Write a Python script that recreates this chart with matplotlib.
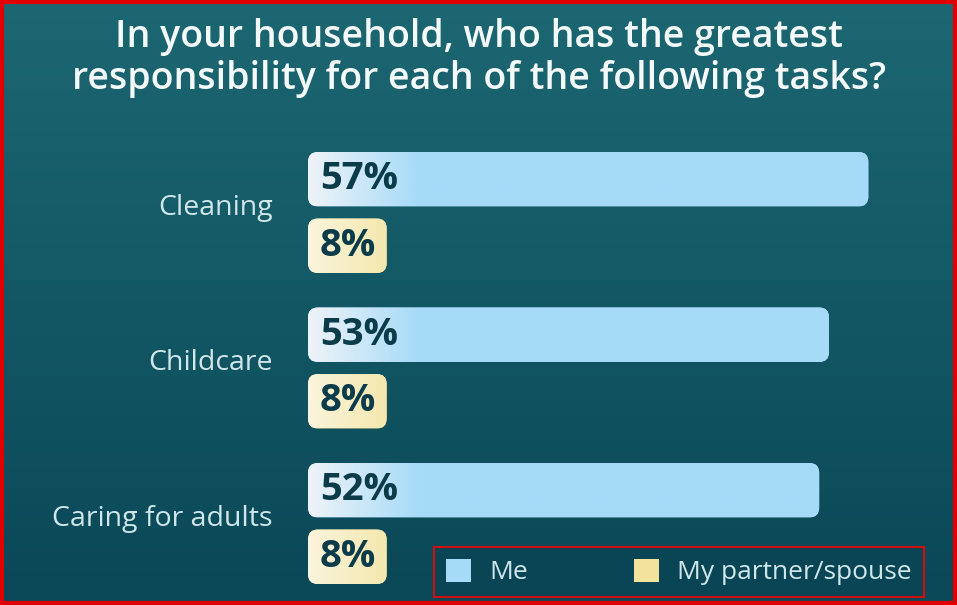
import numpy as np
import matplotlib.pyplot as plt
from matplotlib.colors import to_rgb
from matplotlib.patches import FancyBboxPatch, Patch, Rectangle

plt.rcParams['font.family'] = ['Open Sans', 'DejaVu Sans']

title = 'In your household, who has the greatest\nresponsibility for each of the following tasks?'
tasks = ['Cleaning', 'Childcare', 'Caring for adults']
me = [57, 53, 52]
partner = [8, 8, 8]
series_names = ['Me', 'My partner/spouse']

me_cols = ('#eef3f8', '#a6dbf8')
partner_cols = ('#faf5dc', '#f2e29c')
label_col = '#cfe7ea'
value_col = '#0c3b4a'

W, H = 957, 605
fig = plt.figure(figsize=(W / 100, H / 100), dpi=100)

# background gradient
bg = fig.add_axes([0, 0, 1, 1], zorder=0)
bg.axis('off')
top = np.array([0x1c, 0x67, 0x72]) / 255
bot = np.array([0x0a, 0x47, 0x57]) / 255
t = np.linspace(0, 1, 256)[:, None]
grad = top * (1 - t) + bot * t
bg.imshow(grad[:, None, :].repeat(2, axis=1), aspect='auto', extent=(0, 1, 0, 1))
bg.set_xlim(0, 1)
bg.set_ylim(0, 1)

# bars axes
x_px = 9.83
ax_left, ax_w = 308, 60 * x_px
ax_bot, ax_h = 605 - 601.25, 466.5
ax = fig.add_axes([ax_left / W, ax_bot / H, ax_w / W, ax_h / H], zorder=1)
ax.axis('off')

y = np.arange(len(tasks))
off, bh = 0.214, 0.35
b1 = ax.barh(y - off, me, height=bh)
b2 = ax.barh(y + off, partner, height=bh)

asp = (3 / ax_h) / (60 / ax_w)
for bars, cols in [(b1, me_cols), (b2, partner_cols)]:
    for r in bars:
        x0, y0 = r.get_x(), r.get_y()
        w, h = r.get_width(), r.get_height()
        r.set_visible(False)
        box = FancyBboxPatch((x0, y0), w, h, boxstyle='round,pad=0,rounding_size=1.0',
                             mutation_aspect=asp, facecolor=cols[1], edgecolor='none')
        ax.add_patch(box)
        s = np.clip(np.linspace(0, w * x_px, 200) / 110, 0, 1)[None, :, None]
        img = np.array(to_rgb(cols[0])) * (1 - s) + np.array(to_rgb(cols[1])) * s
        im = ax.imshow(img, extent=(x0, x0 + w, y0 + h, y0), aspect='auto', zorder=2)
        im.set_clip_path(box)

for i in range(len(tasks)):
    ax.text(1.2, y[i] - off, f'{me[i]}%', va='center', ha='left', fontsize=27.5,
            fontweight='bold', color=value_col, zorder=3)
    ax.text(1.2, y[i] + off, f'{partner[i]}%', va='center', ha='left', fontsize=27.5,
            fontweight='bold', color=value_col, zorder=3)
    ax.text(-3.6, y[i] - 0.03, tasks[i], va='center', ha='right', fontsize=20.5,
            color=label_col, clip_on=False)

ax.set_xlim(0, 60)
ax.set_ylim(2.5, -0.5)

fig.text(0.5, 1 - 58 / H, title, ha='center', va='center', fontsize=27,
         fontweight='semibold', color='#f4f9fa', linespacing=1.15)

handles = [Patch(facecolor=me_cols[1], edgecolor='none'),
           Patch(facecolor=partner_cols[1], edgecolor='none')]
leg = fig.legend(handles, series_names, ncol=2, loc='center',
                 bbox_to_anchor=(434 / W, 1 - 601 / H, 490 / W, 58 / H),
                 mode='expand', borderaxespad=0, fontsize=19, frameon=True,
                 fancybox=False, handlelength=0.95, handleheight=0.95,
                 handletextpad=0.7, borderpad=0.45, labelcolor=label_col)
leg.get_frame().set_edgecolor('#d01010')
leg.get_frame().set_linewidth(1.5)
leg.get_frame().set_facecolor('#0a4555')
leg.get_frame().set_alpha(1)
leg.set_zorder(5)

fig.add_artist(Rectangle((2 / W, 2 / H), 1 - 4 / W, 1 - 4 / H, transform=fig.transFigure,
                         fill=False, edgecolor='#e00000', linewidth=3, zorder=10))

fig.savefig('out.png', dpi=100)
